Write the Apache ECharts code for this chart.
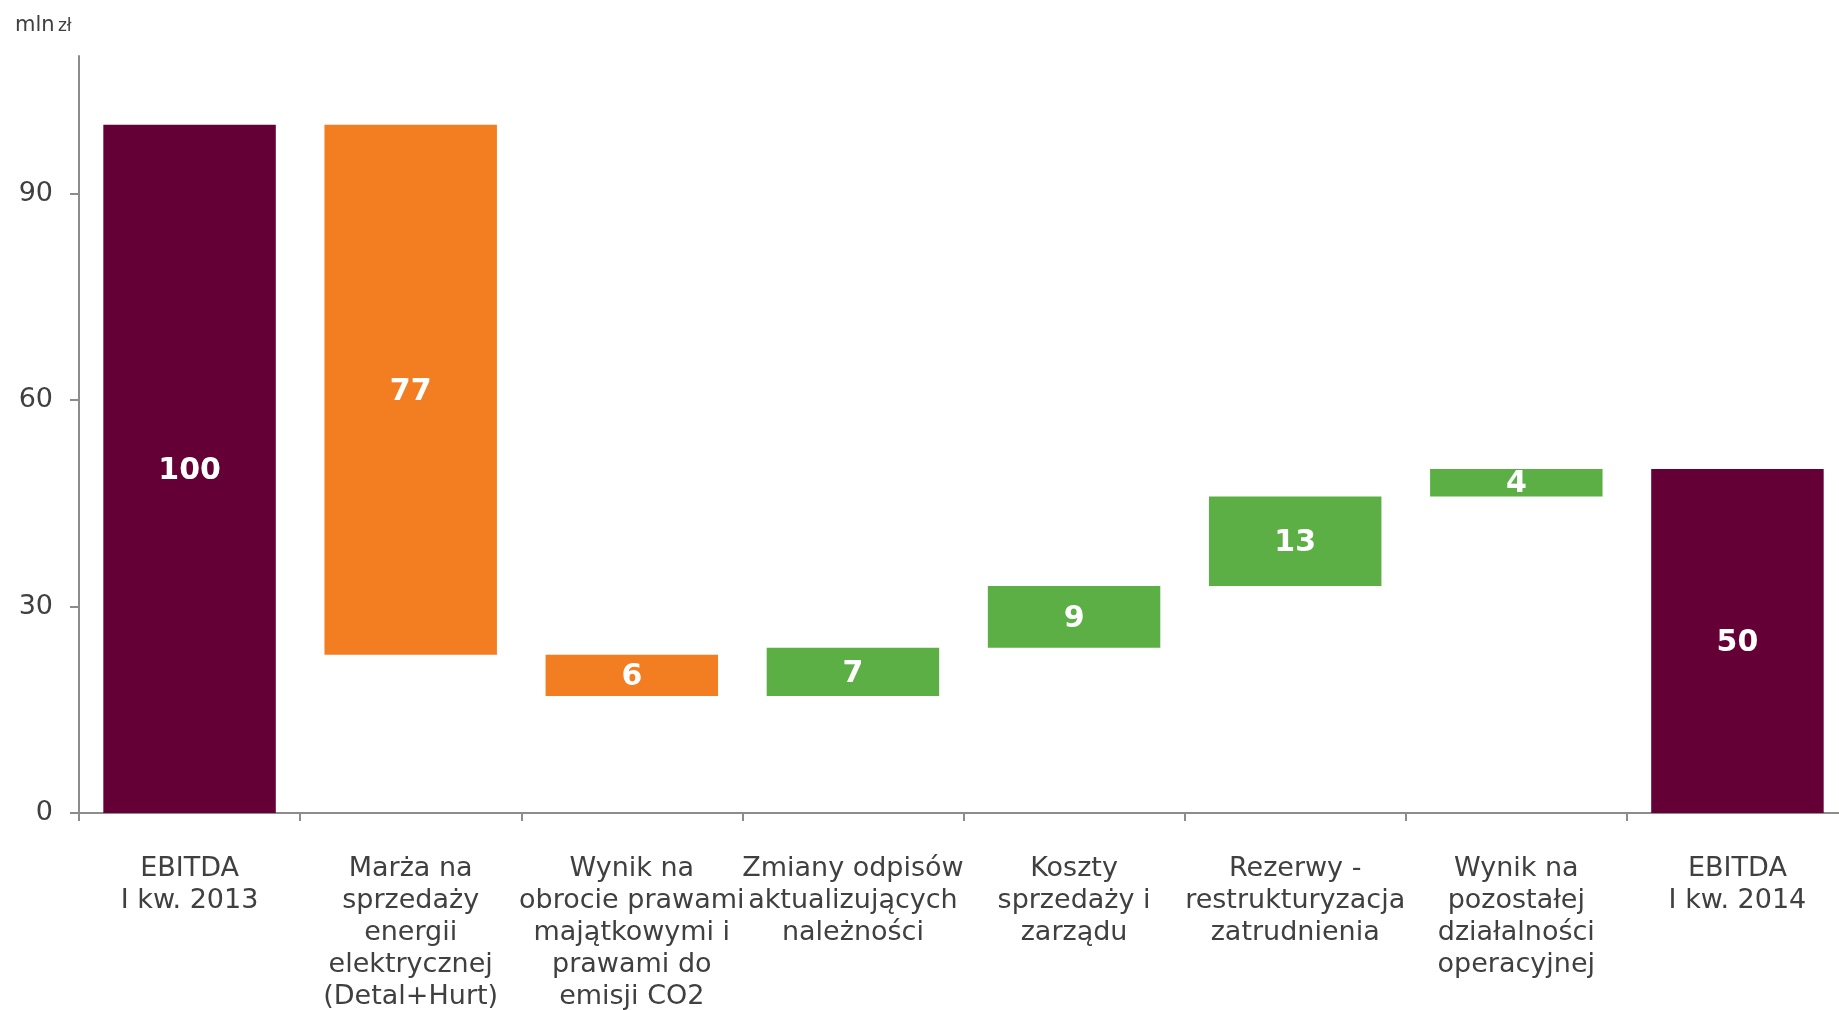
<!DOCTYPE html>
<html>
<head>
<meta charset="utf-8">
<script src="https://cdn.jsdelivr.net/npm/echarts@6/dist/echarts.min.js"></script>
<style>
  html, body { margin: 0; padding: 0; background: #ffffff; }
  #chart { width: 1839px; height: 1010px; }
</style>
</head>
<body>
<div id="chart"></div>
<script>
// Bridge of EBITDA, Q1 2013 -> Q1 2014 (mln zł)
const categories = [
  'EBITDA\nI kw. 2013',
  'Marża na\nsprzedaży\nenergii\nelektrycznej\n(Detal+Hurt)',
  'Wynik na\nobrocie prawami\nmajątkowymi i\nprawami do\nemisji CO2',
  'Zmiany odpisów\naktualizujących\nnależności',
  'Koszty\nsprzedaży i\nzarządu',
  'Rezerwy -\nrestrukturyzacja\nzatrudnienia',
  'Wynik na\npozostałej\ndziałalności\noperacyjnej',
  'EBITDA\nI kw. 2014'
];
// Signed change per step; the first and last entries are totals
const changes = [100, -77, -6, 7, 9, 13, 4, 50];
const kinds = ['total', 'step', 'step', 'step', 'step', 'step', 'step', 'total'];
const yTicks = [0, 30, 60, 90];

const COLOR_TOTAL = '#640036';
const COLOR_DOWN = '#F37E22';
const COLOR_UP = '#5BAF45';

// Floating-bar layout: invisible base + visible segment
const base = [];
const visible = [];
let running = 0;
changes.forEach((v, i) => {
  if (kinds[i] === 'total') {
    base.push(0);
    visible.push({ value: v, itemStyle: { color: COLOR_TOTAL } });
    running = v;
  } else if (v < 0) {
    running += v;
    base.push(running);
    visible.push({ value: -v, itemStyle: { color: COLOR_DOWN } });
  } else {
    base.push(running);
    visible.push({ value: v, itemStyle: { color: COLOR_UP } });
    running += v;
  }
});

const FONT = '"DejaVu Sans", Verdana, sans-serif';
const chart = echarts.init(document.getElementById('chart'), null, { renderer: 'canvas' });
chart.setOption({
  animation: false,
  backgroundColor: '#ffffff',
  grid: {
    left: 79, top: 56, bottom: 197, width: 1769,
    containLabel: false,
    outerBoundsMode: 'none'
  },
  graphic: [{
    type: 'text',
    left: 15,
    top: 15,
    style: {
      text: '{a|mln} {b|zł}',
      rich: {
        a: { fontFamily: FONT, fontSize: 21, fill: '#404040' },
        b: { fontFamily: FONT, fontSize: 17, fill: '#404040', padding: [3, 0, 0, 0] }
      }
    }
  }],
  xAxis: {
    type: 'category',
    data: categories,
    axisLine: { lineStyle: { color: '#8c8c8c', width: 2 } },
    axisTick: { show: true, length: 8, alignWithLabel: false, lineStyle: { color: '#8c8c8c', width: 2 } },
    axisLabel: {
      interval: 0,
      margin: 40,
      color: '#404040',
      fontFamily: FONT,
      fontSize: 27,
      lineHeight: 32,
      align: 'center',
      hideOverlap: false
    }
  },
  yAxis: {
    type: 'value',
    min: 0,
    max: 110,
    splitLine: { show: false },
    axisLine: { show: true, lineStyle: { color: '#8c8c8c', width: 2 } },
    axisTick: { show: true, length: 9, customValues: yTicks, lineStyle: { color: '#8c8c8c', width: 2 } },
    axisLabel: {
      customValues: yTicks,
      margin: 26,
      color: '#404040',
      fontFamily: FONT,
      fontSize: 27
    }
  },
  series: [
    {
      type: 'bar',
      stack: 'w',
      silent: true,
      barCategoryGap: '22%',
      itemStyle: { color: 'rgba(0,0,0,0)' },
      data: base
    },
    {
      type: 'bar',
      stack: 'w',
      barCategoryGap: '22%',
      data: visible,
      label: {
        show: true,
        position: 'inside',
        offset: [0, 2],
        color: '#ffffff',
        fontFamily: FONT,
        fontWeight: 'bold',
        fontSize: 30
      }
    }
  ]
});
</script>
</body>
</html>
